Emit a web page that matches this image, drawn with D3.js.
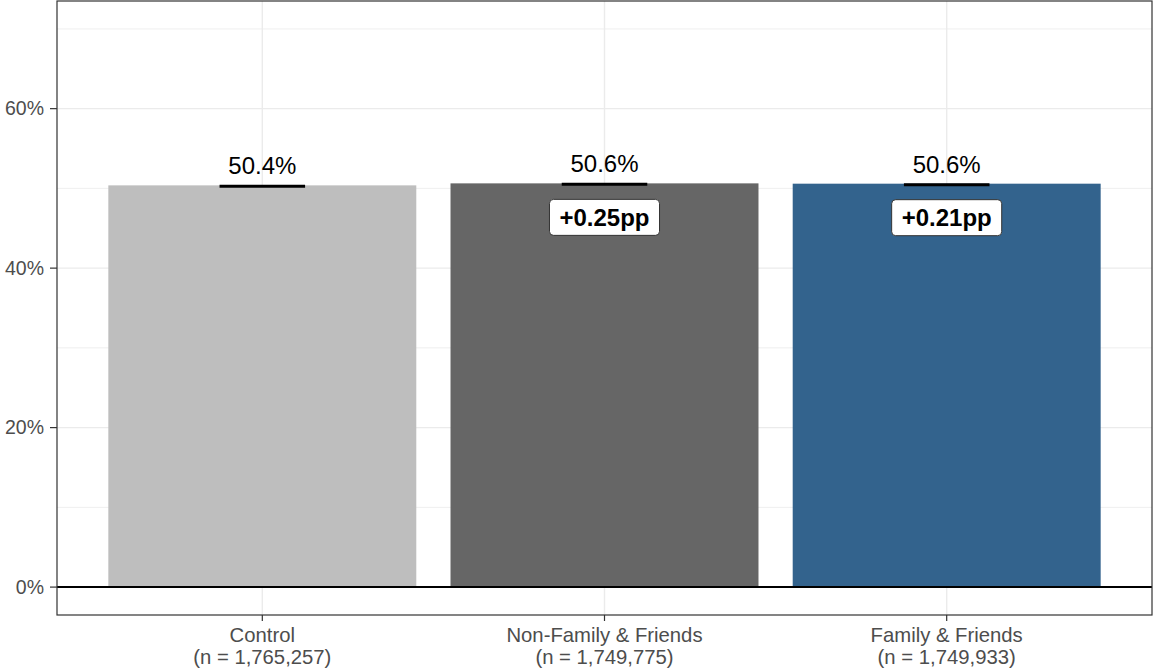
<!DOCTYPE html>
<html>
<head>
<meta charset="utf-8">
<script src="https://cdn.jsdelivr.net/npm/d3@7"></script>
<style>
html,body{margin:0;padding:0;background:#fff;}
svg{display:block;}
text{font-family:"Liberation Sans",Arial,Helvetica,sans-serif;}
</style>
</head>
<body>
<svg id="chart" width="1154" height="671"></svg>
<script>
const categories = ["Control", "Non-Family & Friends", "Family & Friends"];
const sampleSizes = ["1,765,257", "1,749,775", "1,749,933"];
const values = [50.38, 50.63, 50.59];
const effects = [null, 0.25, 0.21];
const colors = ["#bebebe", "#666666", "#33638d"];
const yTicks = [0, 20, 40, 60];
const yMinor = [10, 30, 50, 70];

const svg = d3.select("#chart");
const L = 57, R = 1152, T = 1, B = 615;

const x = d3.scalePoint().domain(categories).range([L, R]).padding(0.6);
const step = x.step();
const y = d3.scaleLinear().domain([-3.5, 73.5]).range([B, T]);

const g = svg.append("g");
g.selectAll(".minor").data(yMinor).enter().append("line")
  .attr("x1", L).attr("x2", R).attr("y1", d => y(d)).attr("y2", d => y(d))
  .attr("stroke", "#ebebeb").attr("stroke-width", 0.8);
g.selectAll(".major").data(yTicks).enter().append("line")
  .attr("x1", L).attr("x2", R).attr("y1", d => y(d)).attr("y2", d => y(d))
  .attr("stroke", "#ebebeb").attr("stroke-width", 1.4);
g.selectAll(".vmajor").data(categories).enter().append("line")
  .attr("x1", d => x(d)).attr("x2", d => x(d)).attr("y1", T).attr("y2", B)
  .attr("stroke", "#ebebeb").attr("stroke-width", 1.4);

g.selectAll(".bar").data(categories).enter().append("rect")
  .attr("x", d => x(d) - step * 0.45)
  .attr("width", step * 0.9)
  .attr("y", (d, i) => y(values[i]))
  .attr("height", (d, i) => y(0) - y(values[i]))
  .attr("fill", (d, i) => colors[i]);

g.append("line").attr("x1", L).attr("x2", R).attr("y1", y(0)).attr("y2", y(0))
  .attr("stroke", "#000").attr("stroke-width", 2);

g.selectAll(".err").data(categories).enter().append("line")
  .attr("x1", d => x(d) - step * 0.125).attr("x2", d => x(d) + step * 0.125)
  .attr("y1", (d, i) => y(values[i]) + 1).attr("y2", (d, i) => y(values[i]) + 1)
  .attr("stroke", "#000").attr("stroke-width", 3);

g.selectAll(".val").data(categories).enter().append("text")
  .attr("x", d => x(d)).attr("y", (d, i) => y(values[i]) - 11)
  .attr("text-anchor", "middle").attr("font-size", 24).attr("fill", "#000")
  .text((d, i) => values[i].toFixed(1) + "%");

categories.forEach((c, i) => {
  if (effects[i] == null) return;
  const cy = y(values[i]) + 34;
  const txt = "+" + effects[i].toFixed(2) + "pp";
  const t = g.append("text").attr("x", x(c)).attr("y", cy + 8.5)
    .attr("text-anchor", "middle").attr("font-size", 24).attr("font-weight", "bold")
    .attr("fill", "#000").text(txt);
  const bb = t.node().getBBox();
  g.insert("rect", () => t.node())
    .attr("x", x(c) - bb.width / 2 - 10).attr("width", bb.width + 20)
    .attr("y", cy - 18).attr("height", 36)
    .attr("rx", 4).attr("ry", 4)
    .attr("fill", "#fff").attr("stroke", "#333").attr("stroke-width", 1);
});

svg.append("rect").attr("x", L).attr("y", T).attr("width", R - L).attr("height", B - T)
  .attr("fill", "none").attr("stroke", "#333").attr("stroke-width", 1.2);

const ya = svg.append("g");
ya.selectAll("line").data(yTicks).enter().append("line")
  .attr("x1", L - 7).attr("x2", L).attr("y1", d => y(d)).attr("y2", d => y(d))
  .attr("stroke", "#333").attr("stroke-width", 1.2);
ya.selectAll("text").data(yTicks).enter().append("text")
  .attr("x", L - 13).attr("y", d => y(d)).attr("dy", "0.35em")
  .attr("text-anchor", "end").attr("font-size", 19.5).attr("fill", "#4d4d4d")
  .text(d => d + "%");

const xa = svg.append("g");
xa.selectAll("line").data(categories).enter().append("line")
  .attr("x1", d => x(d)).attr("x2", d => x(d)).attr("y1", B).attr("y2", B + 6)
  .attr("stroke", "#333").attr("stroke-width", 1.2);
categories.forEach((c, i) => {
  const t = xa.append("text").attr("x", x(c)).attr("y", 642)
    .attr("text-anchor", "middle").attr("font-size", 20.3).attr("fill", "#4d4d4d");
  t.append("tspan").attr("x", x(c)).attr("y", 642).text(c);
  t.append("tspan").attr("x", x(c)).attr("y", 664).text("(n = " + sampleSizes[i] + ")");
});
</script>
</body>
</html>
